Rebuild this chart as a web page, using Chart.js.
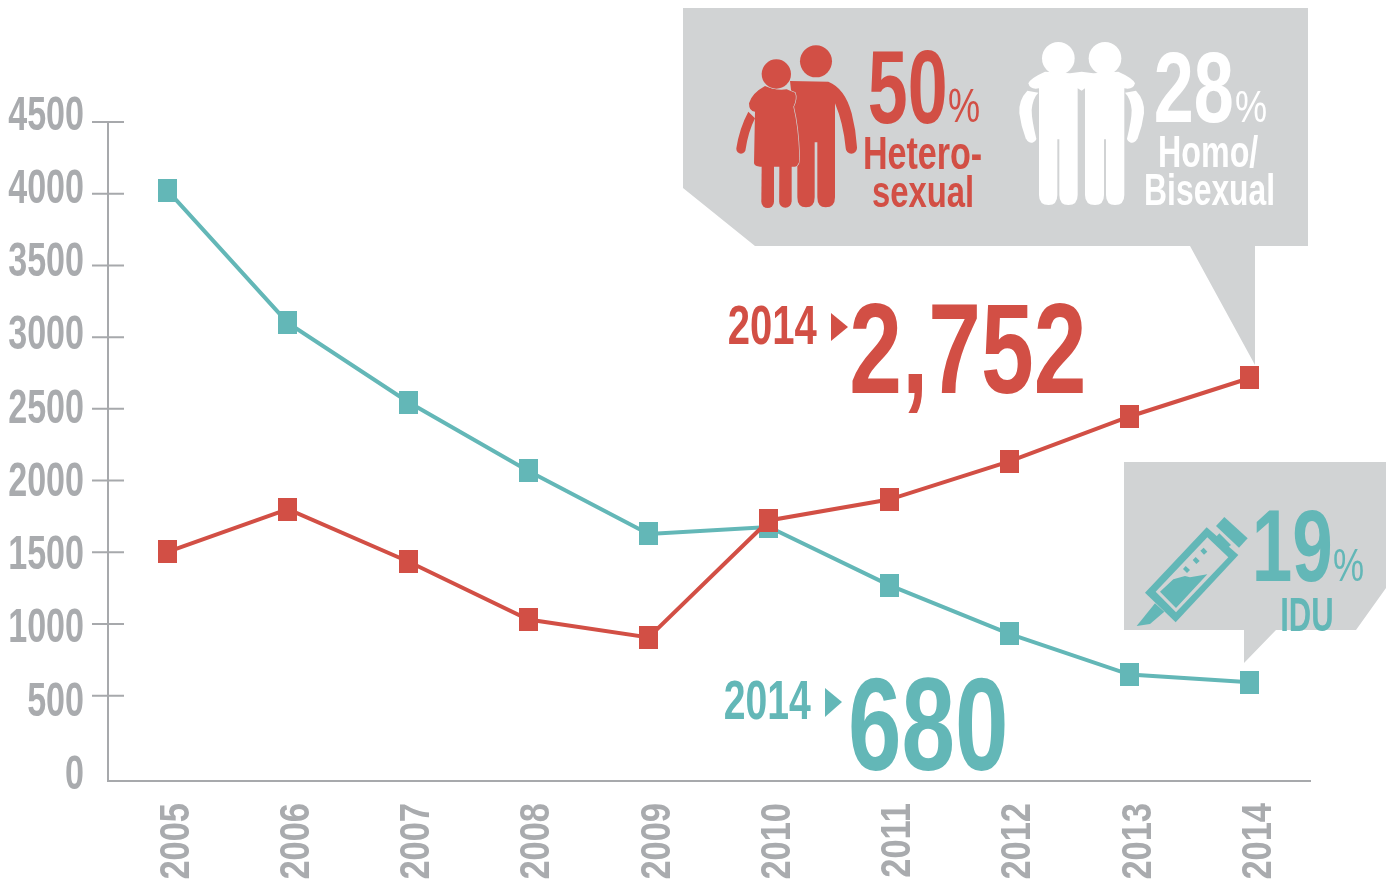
<!DOCTYPE html>
<html><head><meta charset="utf-8">
<style>html,body{margin:0;padding:0;background:#fff}canvas{display:block}</style>
<script src="https://cdn.jsdelivr.net/npm/chart.js@4"></script>
</head><body><canvas id="c" width="1392" height="881"></canvas>
<script>
const years=['2005','2006','2007','2008','2009','2010','2011','2012','2013','2014'];
const heterosexual=[1564,1857,1499,1103,980,1779,1922,2182,2489,2752];
const idu=[4032,3128,2588,2117,1687,1735,1338,1004,727,675];
const tickValues=[500,1000,1500,2000,2500,3000,3500,4000,4500];
const RED='#d24f45',TEAL='#63b7b7',GREY='#d1d3d4',AX='#a7a9ac',LAB='#a9abae';
const FONT='"Liberation Sans Narrow","Liberation Sans",sans-serif';

function marker(color){const c=document.createElement('canvas');c.width=19;c.height=23;const x=c.getContext('2d');x.fillStyle=color;x.fillRect(0,0,19,23);return c;}
function squeeze(scale,sx,sy,ax,ay){
  if(scale._sq)return;scale._sq=1;const o=scale.drawLabels;
  scale._computeLabelArea=()=>undefined;
  scale.drawLabels=function(a){const ctx=this.ctx;ctx.save();ctx.translate(ax,ay);ctx.scale(sx,sy);ctx.translate(-ax,-ay);o.call(this,a);ctx.restore();};
}
function fit(ctx,str,x0,x1,top,base,color,weight){
  ctx.save();ctx.font=(weight||'bold')+' 100px '+FONT;ctx.textBaseline='alphabetic';ctx.textAlign='left';
  const m=ctx.measureText(str);const w=m.actualBoundingBoxRight+m.actualBoundingBoxLeft,h=m.actualBoundingBoxAscent;
  ctx.translate(x0,base);ctx.scale((x1-x0)/w,(base-top)/h);ctx.fillStyle=color;ctx.fillText(str,m.actualBoundingBoxLeft,0);ctx.restore();
}
function poly(ctx,p,color){ctx.beginPath();p.forEach((q,i)=>i?ctx.lineTo(q[0],q[1]):ctx.moveTo(q[0],q[1]));ctx.closePath();ctx.fillStyle=color;ctx.fill();}
function circ(ctx,x,y,r){ctx.beginPath();ctx.arc(x,y,r,0,7);ctx.fill();}

function couple(ctx){
  ctx.save();ctx.translate(680,0);ctx.scale(1/3,1/3);ctx.fillStyle=RED;
  circ(ctx,408,184,48);
  ctx.beginPath();ctx.moveTo(330,243);ctx.lineTo(445,245);ctx.quadraticCurveTo(495,265,515,340);ctx.quadraticCurveTo(528,390,531,442);
  ctx.arc(514,444,17,0,Math.PI);ctx.quadraticCurveTo(490,370,465,310);ctx.lineTo(465,592);ctx.quadraticCurveTo(465,622,437,622);ctx.quadraticCurveTo(412,622,412,592);ctx.lineTo(412,427);ctx.lineTo(404,427);ctx.lineTo(404,592);ctx.quadraticCurveTo(404,622,378,622);ctx.quadraticCurveTo(352,622,352,592);ctx.lineTo(352,440);ctx.closePath();ctx.fill();
  ctx.beginPath();ctx.moveTo(255,258);ctx.quadraticCurveTo(215,280,207,310);ctx.quadraticCurveTo(207,335,225,335);ctx.lineTo(222,490);ctx.quadraticCurveTo(225,500,240,500);ctx.lineTo(345,500);ctx.quadraticCurveTo(360,495,358,470);ctx.quadraticCurveTo(355,380,340,320);ctx.quadraticCurveTo(352,295,345,278);ctx.lineTo(320,268);ctx.quadraticCurveTo(285,272,255,258);ctx.closePath();
  ctx.strokeStyle=GREY;ctx.lineWidth=4;ctx.stroke();ctx.fill();
  ctx.beginPath();ctx.moveTo(205,335);ctx.quadraticCurveTo(178,385,169,445);ctx.arc(183,447,14,Math.PI,0,true);ctx.quadraticCurveTo(205,395,225,355);ctx.closePath();ctx.fill();
  ctx.beginPath();ctx.moveTo(245,498);ctx.lineTo(282,498);ctx.lineTo(282,605);ctx.arc(263,605,19,0,Math.PI);ctx.closePath();ctx.fill();
  ctx.beginPath();ctx.moveTo(298,498);ctx.lineTo(335,498);ctx.lineTo(335,605);ctx.arc(316,605,18.5,0,Math.PI);ctx.closePath();ctx.fill();
  ctx.beginPath();ctx.arc(289,222,44,0,7);ctx.strokeStyle=GREY;ctx.lineWidth=3;ctx.stroke();ctx.fill();
  ctx.restore();
}
function men(ctx){
  ctx.save();ctx.translate(1010,20);ctx.scale(1/3,1/3);ctx.fillStyle='#fff';
  circ(ctx,145,115,49);circ(ctx,285,115,49);
  const leg=(a,b,c)=>{ctx.beginPath();ctx.moveTo(a,180);ctx.lineTo(b,180);ctx.lineTo(b,525);ctx.quadraticCurveTo(b,555,(b+c)/2+1,555);ctx.quadraticCurveTo(c+3,555,c+3,525);ctx.lineTo(c+3,358);ctx.lineTo(c-3,358);ctx.lineTo(c-3,525);ctx.quadraticCurveTo(c-3,555,(a+c)/2,555);ctx.quadraticCurveTo(a,555,a,525);ctx.closePath();ctx.fill();};
  leg(87,203,145);leg(225,343,285);
  ctx.beginPath();ctx.moveTo(55,190);ctx.quadraticCurveTo(60,175,105,155);ctx.lineTo(180,160);ctx.lineTo(215,155);ctx.lineTo(250,160);ctx.lineTo(325,155);ctx.quadraticCurveTo(370,175,375,190);ctx.quadraticCurveTo(370,210,343,205);ctx.lineTo(225,205);ctx.lineTo(215,212);ctx.lineTo(203,205);ctx.lineTo(87,205);ctx.quadraticCurveTo(60,210,55,190);ctx.closePath();ctx.fill();
  ctx.beginPath();ctx.moveTo(52,212);ctx.quadraticCurveTo(25,240,28,280);ctx.quadraticCurveTo(33,320,48,358);ctx.arc(64,352,16,Math.PI*0.9,Math.PI*0.1,true);ctx.quadraticCurveTo(65,300,65,270);ctx.quadraticCurveTo(68,235,85,218);ctx.closePath();ctx.fill();
  ctx.beginPath();ctx.moveTo(378,212);ctx.quadraticCurveTo(405,240,402,280);ctx.quadraticCurveTo(397,320,382,358);ctx.arc(366,352,16,Math.PI*0.1,Math.PI*0.9);ctx.quadraticCurveTo(365,300,365,270);ctx.quadraticCurveTo(362,235,345,218);ctx.closePath();ctx.fill();
  ctx.restore();
}
function syringe(ctx){
  ctx.save();ctx.translate(1110,450);ctx.scale(1/3,1/3);
  poly(ctx,[[105,428],[290,232],[385,315],[197,517]],TEAL);
  poly(ctx,[[137,425],[292,262],[355,322],[198,487]],GREY);
  poly(ctx,[[150,425],[190,388],[225,378],[240,382],[292,373],[198,474]],TEAL);
  poly(ctx,[[135,460],[80,528],[120,522],[163,485]],TEAL);
  poly(ctx,[[328,250],[363,285],[345,300],[312,268]],TEAL);
  poly(ctx,[[318,228],[343,201],[413,265],[387,293]],TEAL);
  poly(ctx,[[227,348],[240,360],[231,369],[219,357]],TEAL);
  poly(ctx,[[257,321],[269,333],[259,342],[248,330]],TEAL);
  poly(ctx,[[281,293],[292,305],[282,314],[271,302]],TEAL);
  ctx.restore();
}
const callouts={
  id:'callouts',
  beforeDatasetsDraw(chart){
    const ctx=chart.ctx;
    poly(ctx,[[683,8],[1308,8],[1308,246],[1255,246],[1255,365],[1190,246],[755,246],[683,188]],GREY);
    poly(ctx,[[1124,462],[1386,462],[1386,588],[1356,630],[1276,630],[1244,663],[1244,630],[1124,630]],GREY);
    couple(ctx);men(ctx);syringe(ctx);
    fit(ctx,'50',870,945,50,123,RED);fit(ctx,'%',949,979,89,122,RED,'normal');
    fit(ctx,'Hetero-',865,981,137,169,RED);fit(ctx,'sexual',873,972,175,207,RED);
    fit(ctx,'28',1156,1232,52,122,'#fff');fit(ctx,'%',1236,1266,91,122,'#fff','normal');
    fit(ctx,'Homo/',1160,1258,135,167,'#fff');fit(ctx,'Bisexual',1146,1273,173,205,'#fff');
    fit(ctx,'19',1256,1330,509,581,TEAL);fit(ctx,'%',1334,1363,549,581,TEAL,'normal');
    fit(ctx,'IDU',1282,1332,597,631,TEAL);
    fit(ctx,'2014',729,817,305,344,RED);poly(ctx,[[831,313],[848,327],[831,341]],RED);
    fit(ctx,'2,752',852,1083,303,393,RED);
    fit(ctx,'2014',725,811,680,719,TEAL);poly(ctx,[[825,688],[842,702],[825,717]],TEAL);
    fit(ctx,'680',851,1005,678,770,TEAL);
    const s=chart.scales.yMarks;ctx.save();ctx.strokeStyle=AX;ctx.lineWidth=2;ctx.beginPath();
    s.ticks.forEach(t=>{const y=s.getPixelForValue(t.value);ctx.moveTo(92,y);ctx.lineTo(124,y);});ctx.stroke();ctx.restore();
  }
};
new Chart(document.getElementById('c'),{
  type:'line',
  data:{labels:years,datasets:[
    {label:'Heterosexual',data:heterosexual,borderColor:RED,backgroundColor:RED,borderWidth:4,pointStyle:marker(RED),tension:0,clip:false},
    {label:'IDU',data:idu,borderColor:TEAL,backgroundColor:TEAL,borderWidth:4,pointStyle:marker(TEAL),tension:0,clip:false}
  ]},
  options:{
    responsive:false,animation:false,events:[],
    layout:{padding:{top:122,right:82,left:0,bottom:0}},
    plugins:{legend:{display:false},tooltip:{enabled:false},title:{display:false}},
    scales:{
      x:{type:'category',offset:true,
        grid:{display:false,drawTicks:false},border:{display:true,color:AX,width:2},
        ticks:{autoSkip:false,minRotation:90,maxRotation:90,padding:22,labelOffset:9.5,color:LAB,font:{family:FONT,weight:'bold',size:42}},
        afterFit(s){s.height=100;squeeze(s,1,0.82,0,803);}},
      y:{min:0,max:4500,
        grid:{display:false,drawTicks:false},border:{display:true,color:AX,width:2},
        ticks:{stepSize:500,labelOffset:-5.5,padding:23.5,color:LAB,font:{family:FONT,weight:'bold',size:48},callback:v=>String(v)},
        afterFit(s){s.width=107.5;squeeze(s,0.71,1,84,0);}},
      yMarks:{display:false,min:-95,max:4500,afterBuildTicks(s){s.ticks=tickValues.map(v=>({value:v}));}}
    }
  },
  plugins:[callouts]
});
</script></body></html>
